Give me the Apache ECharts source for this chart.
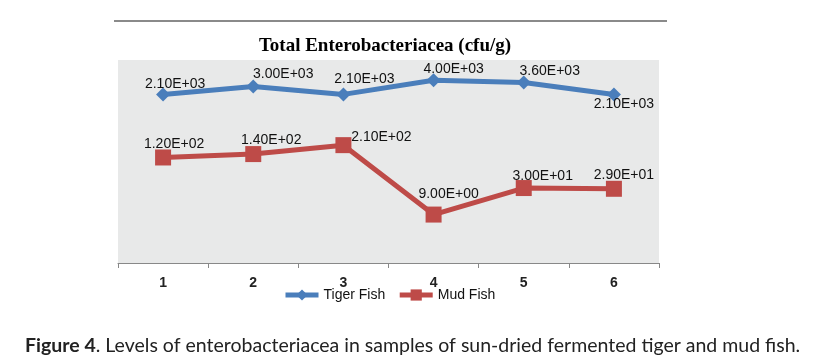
<!DOCTYPE html>
<html>
<head>
<meta charset="utf-8">
<script src="https://cdn.jsdelivr.net/npm/echarts@6/dist/echarts.min.js"></script>
<style>
html,body{margin:0;padding:0;background:#fff;}
#chart{width:815px;height:363px;}
</style>
</head>
<body>
<div id="chart"></div>
<script>
const categories = ['1', '2', '3', '4', '5', '6'];
const tigerFish = [2100, 3000, 2100, 4000, 3600, 2100];
const mudFish = [120, 140, 210, 9, 30, 29];
const tigerLabels = ['2.10E+03', '3.00E+03', '2.10E+03', '4.00E+03', '3.60E+03', '2.10E+03'];
const mudLabels = ['1.20E+02', '1.40E+02', '2.10E+02', '9.00E+00', '3.00E+01', '2.90E+01'];

// label placement (px offsets from each marker)
const tigerOffsets = [[12,-10],[30,-12],[21,-15],[20,-11],[26,-11],[10,10]];
const mudOffsets = [[11,-13],[18,-14],[38,-8],[15,-20],[19,-12],[10,-14]];

const chart = echarts.init(document.getElementById('chart'));
const labelFont = {fontFamily:'Liberation Sans', fontSize:14, color:'#111'};

function buildData(values, labels, offsets){
  return values.map((v,i)=>({
    value: v,
    label: {formatter: labels[i], offset: offsets[i]}
  }));
}

chart.setOption({
  animation: false,
  title: [{
    text: 'Total Enterobacteriacea (cfu/g)',
    left: 385, top: 37, textAlign: 'center', padding: 0,
    textStyle: {fontFamily:'Liberation Serif', fontWeight:'bold', fontSize:19, color:'#000'}
  },{
    text: '{b|Figure 4}. Levels of enterobacteriacea in samples of sun-dried fermented tiger and mud fish.',
    left: 25, top: 336, padding: 0,
    textStyle: {
      fontFamily:'Lato', fontSize:19.5, fontWeight:'normal', color:'#222',
      rich: {b:{fontFamily:'Lato', fontSize:19.5, fontWeight:'bold', color:'#222'}}
    }
  }],
  graphic: [{
    type:'line', shape:{x1:114, y1:21, x2:667, y2:21},
    style:{stroke:'#8a8a8a', lineWidth:2}
  }],
  legend: {
    left: 283, top: 288, padding: 0,
    itemWidth: 33, itemHeight: 14, itemGap: 12,
    lineStyle: {width: 5},
    textStyle: {fontFamily:'Liberation Sans', fontSize:14, color:'#111'},
    data: ['Tiger Fish', 'Mud Fish']
  },
  grid: {left:118, right:156, top:60, bottom:100, show:true, backgroundColor:'#e8e9e9', borderWidth:0},
  xAxis: {
    type:'category', data: categories, boundaryGap:true,
    axisLine:{lineStyle:{color:'#888', width:1}},
    axisTick:{show:true, length:5, lineStyle:{color:'#888'}},
    axisLabel:{margin:13, fontFamily:'Liberation Sans', fontSize:14, fontWeight:'bold', color:'#222'}
  },
  yAxis: {
    type:'log', logBase:10, min:1, max:10000,
    show:false, splitLine:{show:false}
  },
  series: [{
    name:'Tiger Fish', type:'line',
    data: buildData(tigerFish, tigerLabels, tigerOffsets),
    symbol:'diamond', symbolSize:[14,14],
    lineStyle:{color:'#4a7ebb', width:5},
    itemStyle:{color:'#4a7ebb'},
    label:Object.assign({show:true, position:'inside'}, labelFont)
  },{
    name:'Mud Fish', type:'line',
    data: buildData(mudFish, mudLabels, mudOffsets),
    symbol:'rect', symbolSize:[16,16],
    lineStyle:{color:'#be4b48', width:5},
    itemStyle:{color:'#be4b48'},
    label:Object.assign({show:true, position:'inside'}, labelFont)
  }]
});
</script>
</body>
</html>
